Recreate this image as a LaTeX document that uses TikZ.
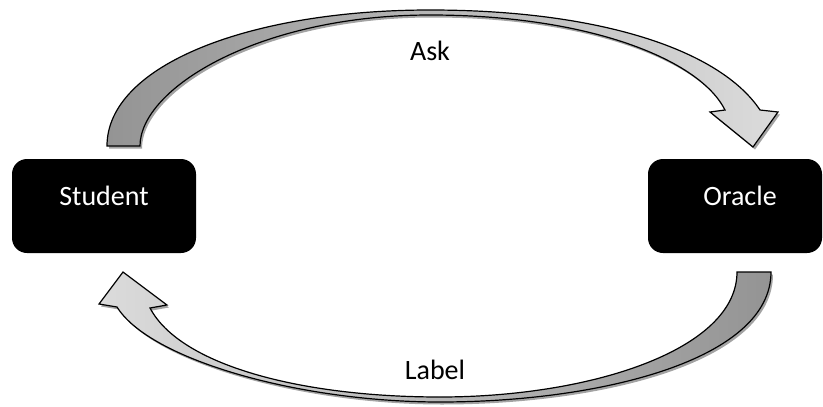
\documentclass[tikz,border=0pt]{standalone}
\usepackage{fontspec}
\setmainfont{Carlito}
\usetikzlibrary{shadows}
\begin{document}
\begin{tikzpicture}[x=1pt,y=-1pt,
  agent/.style={fill=black,rounded corners=15pt,minimum width=184pt,minimum height=94pt,
    inner sep=0pt,text=white,font=\fontsize{28}{30}\selectfont,text height=18pt,text depth=20pt},
  cue/.style={font=\fontsize{28}{30}\selectfont,inner sep=0pt},
  band/.style={draw=black,line width=1.2pt,line join=miter,
    drop shadow={shadow xshift=2pt,shadow yshift=-2.5pt,fill=black!60,opacity=0.6}}]
\useasboundingbox (0,0) rectangle (823,407);
\node[agent] (student) at (104,206) {Student};
\node[agent,minimum width=174pt] (oracle) at (735,206) {\hspace*{10pt}Oracle};
% Ask arrow (Student -> Oracle)
\coordinate (a1) at (107,146);
\coordinate (a2) at (140,146);
\path[band,left color=black!42,right color=black!14]
  (a1) .. controls (107,65) and (250,10) .. (430,10)
       .. controls (600,10) and (720,50) .. (760,110)
  -- (778,112) -- (753,147) -- (710,112) -- (725,110)
       .. controls (700,60) and (590,15) .. (430,15)
       .. controls (260,15) and (140,88) .. (a2) -- cycle;
% Label arrow (Oracle -> Student)
\coordinate (b1) at (771,272);
\coordinate (b2) at (737,272);
\path[band,left color=black!14,right color=black!42]
  (b1) .. controls (771,360) and (600,402) .. (440,402)
       .. controls (300,402) and (150,360) .. (117,307)
  -- (99,304) -- (123,272) -- (167,305) -- (150,308)
       .. controls (180,365) and (300,397) .. (440,397)
       .. controls (590,397) and (737,350) .. (b2) -- cycle;
\node[cue] (ask) at (430,51) {Ask};
\node[cue] (label) at (435,370) {Label};
\end{tikzpicture}
\end{document}
